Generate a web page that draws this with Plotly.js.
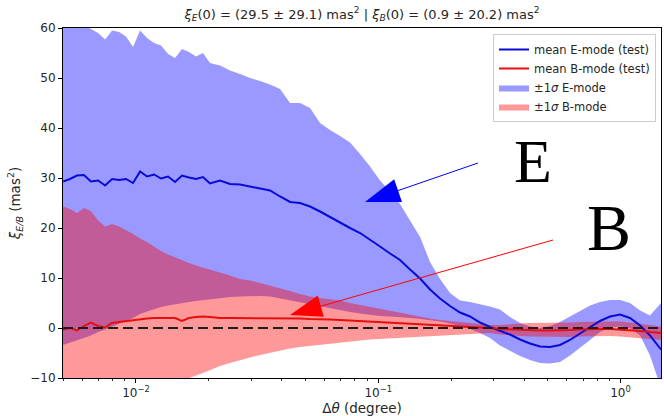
<!DOCTYPE html>
<html>
<head>
<meta charset="utf-8">
<script src="https://cdn.plot.ly/plotly-3.0.1.min.js"></script>
<style>html,body{margin:0;padding:0;background:#fff;}#chart{width:664px;height:416px;}</style>
</head>
<body>
<div id="chart"></div>
<script>
// angular separation (degree)
const thetaDeg = [0.00500,0.00534,0.00571,0.00610,0.00652,0.00698,0.00746,0.00797,0.00852,0.00910,0.00973,0.01040,0.01111,0.01188,0.01269,0.01357,0.01450,0.01549,0.01656,0.01770,0.01891,0.02021,
  0.02223,0.02445,0.02690,0.02958,0.03253,0.03577,0.03934,0.04326,0.04755,0.05231,
  0.05753,0.06326,0.06957,0.07651,0.08414,0.09250,0.1017,0.1119,0.1230,0.1353,
  0.1488,0.1636,0.1799,0.1978,0.2176,0.2392,0.2631,0.2893,0.3181,0.3499,
  0.3847,0.4230,0.4652,0.5116,0.5626,0.6187,0.6804,0.7483,0.8228,0.9049,
  0.9952,1.094,1.204,1.323,1.469];

// E-mode
const eMean = [29.3,29.8,30.5,30.6,29.3,29.5,28.5,29.8,29.6,29.8,29.0,31.3,30.3,30.7,29.9,30.3,29.2,30.5,30.1,29.8,30.2,28.9,
  29.5,28.8,28.7,28.3,28.0,27.5,26.3,25.2,25.0,24.3,
  23.3,22.2,21.0,20.0,19.0,17.7,16.3,14.9,13.6,11.7,
  9.9,7.7,5.9,4.4,3.1,2.3,1.1,0.2,-0.5,-1.3,
  -2.3,-3.1,-3.7,-3.8,-3.4,-2.4,-1.1,0.2,1.4,2.3,
  2.7,2.0,0.5,-1.5,-4.3];
const eUpper = [63,62.5,61.5,60.8,59.8,59,57.7,59.5,59.2,58.3,56.2,59.5,58,57,56.5,54.8,54.0,55.8,55.2,54.3,55,53,
  52.5,51.5,50.8,50,49.4,48.7,47.8,45,45,44,
  41,39.6,38.4,37.1,34.8,32.3,29.5,27.3,24.8,21.5,
  18.2,13.2,9.8,7,5.5,5.2,4.8,4.3,3.7,2.2,
  1.0,0.3,0,0.4,1.2,2.3,3.5,4.5,5.2,5.6,
  5.6,5,3.5,2.5,5];
const eLower = [-3.4,-3.0,-2.5,-2.0,-1.5,-0.8,-0.3,0.3,0.8,1.4,2.0,2.8,3.3,3.8,4.2,4.5,4.8,5.0,5.2,5.4,5.6,5.8,
  6.0,6.2,6.3,6.4,6.4,6.3,6.0,5.6,5.2,4.8,
  4.4,4.0,3.6,3.2,2.9,2.6,2.4,2.3,2.2,2.0,
  1.8,1.6,1.3,0.9,0.4,-0.2,-1.0,-2.0,-3.5,-4.6,
  -5.6,-6.4,-7.0,-7.1,-6.8,-5.5,-4.0,-2.4,-0.8,0.1,
  0.3,0.0,-1.5,-5.5,-12];

// B-mode
const bMean = [-0.3,0,-0.5,0.4,1.1,0.4,0.1,1.0,1.2,1.4,1.6,1.8,1.9,2.0,2.0,2.0,2.0,1.4,2.0,2.2,2.3,2.2,
  2.0,2.0,2.0,2.0,2.0,2.0,2.0,1.9,1.9,1.8,
  1.8,1.7,1.6,1.5,1.4,1.3,1.2,1.1,1.0,0.9,
  0.7,0.6,0.5,0.4,0.3,0.3,0.1,0.0,-0.2,-0.3,
  -0.4,-0.4,-0.5,-0.5,-0.5,-0.4,-0.3,-0.2,-0.2,-0.2,
  -0.3,-0.4,-0.6,-0.8,-1.0];
const bUpper = [24.3,23.8,23.0,24.0,23.4,21.5,20.3,20.8,20.3,19.6,18.8,17.9,17.2,16.3,15.4,14.7,14.1,13.5,13.0,12.5,12.1,11.7,
  11.1,10.5,9.8,9.5,9.0,8.5,8.0,7.4,6.8,6.3,
  6.0,5.8,5.5,5.0,4.6,4.3,3.9,3.4,3.0,2.6,
  2.2,1.9,1.6,1.4,1.2,1.0,0.8,0.6,0.6,0.8,
  0.9,1.0,1.0,1.0,1.0,1.1,1.2,1.3,1.3,1.3,
  1.3,1.1,0.8,0.5,0.3];
const bLower = [-25,-24.5,-24,-23.5,-22,-21,-20,-19,-18,-16.8,-15.6,-14.4,-13.5,-12.5,-11.6,-10.9,-10.5,-10.2,-10.0,-9.5,-9.0,-8.5,
  -7.6,-7.0,-6.4,-5.9,-5.4,-4.9,-4.5,-4.1,-3.8,-3.5,
  -3.3,-3.1,-2.9,-2.7,-2.5,-2.3,-2.2,-2.1,-2.0,-1.9,
  -1.7,-1.6,-1.5,-1.4,-1.3,-1.2,-1.1,-1.0,-1.3,-1.5,
  -1.6,-1.7,-1.8,-1.8,-1.8,-1.8,-1.7,-1.6,-1.6,-1.6,
  -1.7,-1.8,-2.0,-2.2,-2.4];

const xMajor = [0.01, 0.1, 1];
const xMajorText = ['10<sup>\u22122</sup>', '10<sup>\u22121</sup>', '10<sup>0</sup>'];
const xMinor = [0.005,0.006,0.007,0.008,0.009,0.02,0.03,0.04,0.05,0.06,0.07,0.08,0.09,0.2,0.3,0.4,0.5,0.6,0.7,0.8,0.9];

const FONT = 'DejaVu Sans, sans-serif';
const TXT = '#262626';
const band = (lo, hi) => ({x: thetaDeg.concat(thetaDeg.slice().reverse()), y: hi.concat(lo.slice().reverse())});

const eb = band(eLower, eUpper), bb = band(bLower, bUpper);
const traces = [
  {x: eb.x, y: eb.y, type: 'scatter', mode: 'lines', fill: 'toself', fillcolor: 'rgba(0,0,255,0.4)',
   line: {width: 0, color: 'rgba(0,0,255,0.4)'}, name: '\u00b11<i>\u03c3</i> E-mode', legendrank: 3, hoverinfo: 'skip'},
  {x: bb.x, y: bb.y, type: 'scatter', mode: 'lines', fill: 'toself', fillcolor: 'rgba(255,0,0,0.4)',
   line: {width: 0, color: 'rgba(255,0,0,0.4)'}, name: '\u00b11<i>\u03c3</i> B-mode', legendrank: 4, hoverinfo: 'skip'},
  {x: thetaDeg, y: eMean, type: 'scatter', mode: 'lines', line: {color: 'rgb(10,10,215)', width: 2},
   name: 'mean E-mode (test)', legendrank: 1},
  {x: thetaDeg, y: bMean, type: 'scatter', mode: 'lines', line: {color: 'rgb(230,15,15)', width: 2},
   name: 'mean B-mode (test)', legendrank: 2}
];

// annotation geometry helpers (pixel -> paper)
const L = 63, R = 661, T = 28, B = 378;
const PX = px => (px - L) / (R - L);
const PY = py => (B - py) / (B - T);
const tri = (pts) => 'M ' + pts.map(p => PX(p[0]).toFixed(4) + ',' + PY(p[1]).toFixed(4)).join(' L ') + ' Z';

const shapes = [
  {type: 'line', xref: 'paper', yref: 'y', x0: 0, x1: 1, y0: 0, y1: 0, layer: 'above',
   line: {color: 'rgb(30,30,30)', width: 2, dash: '10px,5px'}},
  {type: 'line', xref: 'paper', yref: 'paper', x0: PX(478), y0: PY(163), x1: PX(398), y1: PY(190.6), layer: 'above',
   line: {color: 'rgb(0,0,255)', width: 1}},
  {type: 'path', xref: 'paper', yref: 'paper', path: tri([[365,202],[402,202],[394.2,179.2]]), layer: 'above',
   fillcolor: 'rgb(0,0,255)', line: {width: 0}},
  {type: 'line', xref: 'paper', yref: 'paper', x0: PX(553), y0: PY(240), x1: PX(320.8), y1: PY(306.2), layer: 'above',
   line: {color: 'rgb(255,0,0)', width: 1}},
  {type: 'path', xref: 'paper', yref: 'paper', path: tri([[290,315],[323.8,316.8],[317.8,295.6]]), layer: 'above',
   fillcolor: 'rgb(255,0,0)', line: {width: 0}}
];

const annotations = [
  {xref: 'paper', yref: 'paper', x: PX(533), y: PY(161), text: 'E', showarrow: false, xanchor: 'center', yanchor: 'middle',
   font: {family: 'Liberation Serif, serif', size: 62, color: '#000'}},
  {xref: 'paper', yref: 'paper', x: PX(609), y: PY(227.5), text: 'B', showarrow: false, xanchor: 'center', yanchor: 'middle',
   font: {family: 'Liberation Serif, serif', size: 66, color: '#000'}}
];

const layout = {
  width: 664, height: 416,
  margin: {l: L, r: 664 - R, t: T, b: 416 - B},
  paper_bgcolor: '#fff', plot_bgcolor: '#fff',
  font: {family: FONT, size: 12, color: TXT},
  title: {text: '<i>\u03be</i><sub><i>E</i></sub>(0) = (29.5 \u00b1 29.1) mas<sup>2</sup> | <i>\u03be</i><sub><i>B</i></sub>(0) = (0.9 \u00b1 20.2) mas<sup>2</sup>',
          x: 0.5, xref: 'paper', y: 1 - 14/416, yref: 'container', xanchor: 'center', yanchor: 'middle',
          font: {family: FONT, size: 13, color: TXT}},
  xaxis: {type: 'log', range: [Math.log10(0.005), Math.log10(1.469)], showgrid: false, zeroline: false,
          showline: true, mirror: true, linecolor: '#000', linewidth: 1,
          ticks: 'outside', ticklen: 4, tickcolor: '#000', tickwidth: 1,
          tickmode: 'array', tickvals: xMajor, ticktext: xMajorText,
          minor: {tickmode: 'array', tickvals: xMinor, ticks: 'outside', ticklen: 2, tickcolor: '#000', tickwidth: 0.8, showgrid: false},
          tickfont: {family: FONT, size: 12, color: TXT},
          title: {text: '\u0394<i>\u03b8</i> (degree)', font: {family: FONT, size: 13.5, color: TXT}, standoff: 3}},
  yaxis: {range: [-10, 60], showgrid: false, zeroline: false,
          showline: true, mirror: true, linecolor: '#000', linewidth: 1,
          ticks: 'outside', ticklen: 4, tickcolor: '#000', tickwidth: 1,
          tickmode: 'linear', tick0: -10, dtick: 10,
          tickfont: {family: FONT, size: 12, color: TXT},
          title: {text: '<i>\u03be</i><sub><i>E/B</i></sub> (mas<sup>2</sup>)', font: {family: FONT, size: 13.5, color: TXT}, standoff: 6}},
  showlegend: true,
  legend: {x: PX(656), xanchor: 'right', y: PY(34), yanchor: 'top', bgcolor: 'rgba(255,255,255,0.85)',
           bordercolor: '#cccccc', borderwidth: 1, font: {family: FONT, size: 11.5, color: TXT}},
  shapes: shapes,
  annotations: annotations
};

Plotly.newPlot('chart', traces, layout, {displayModeBar: false, staticPlot: true});
</script>
</body>
</html>
